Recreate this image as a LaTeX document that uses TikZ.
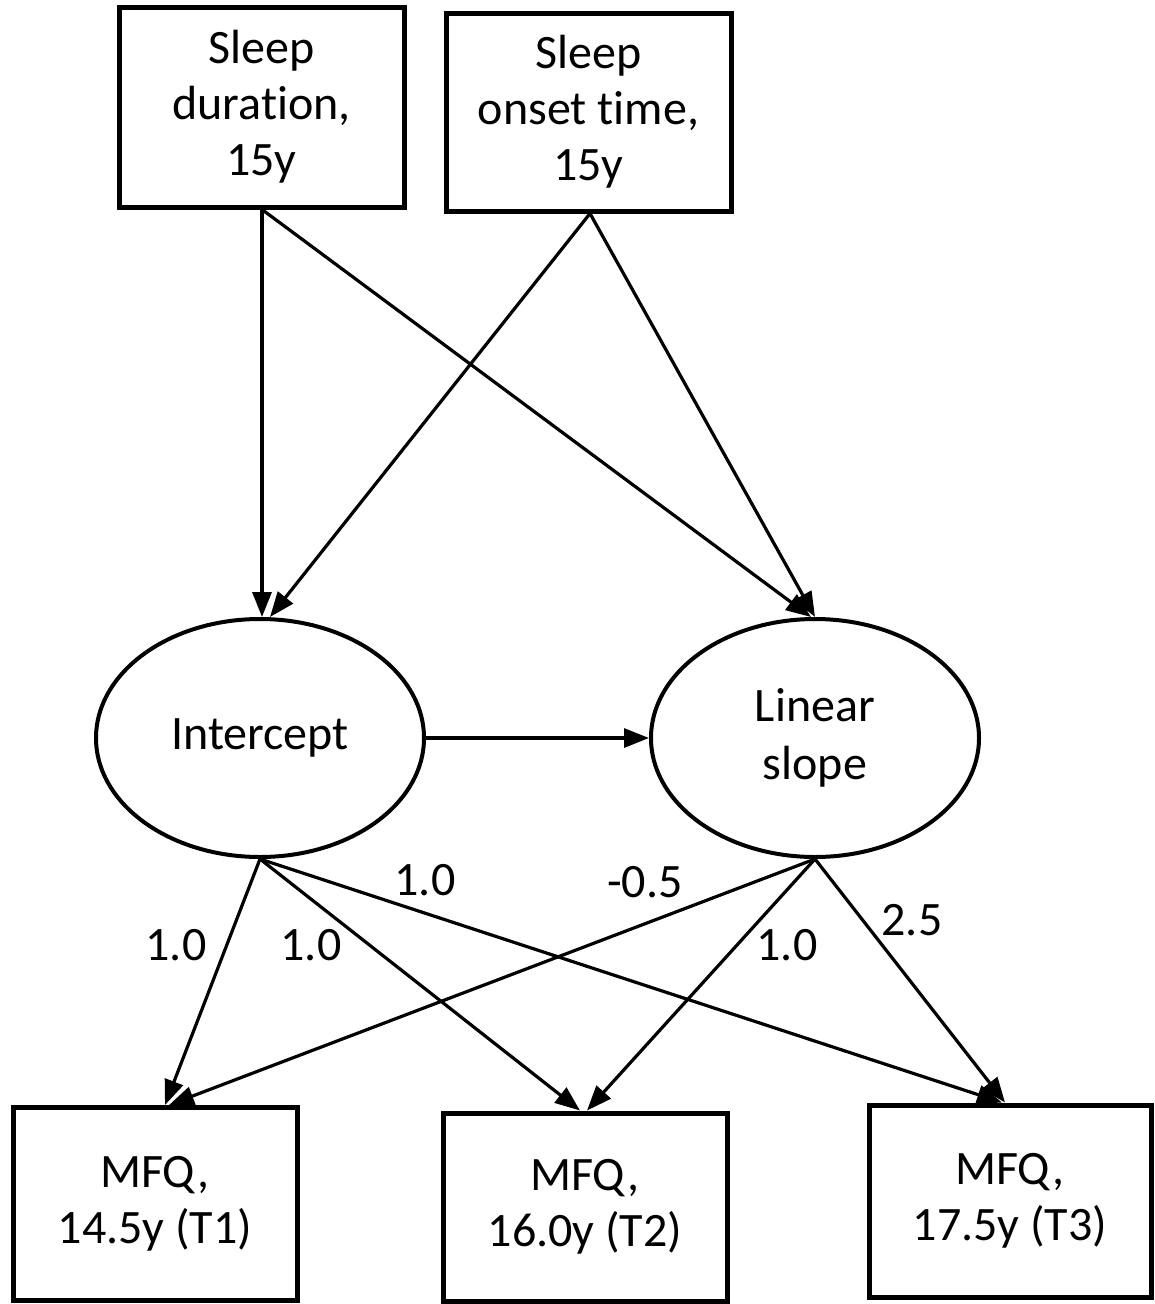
\documentclass[tikz,border=0pt]{standalone}
\usepackage{fontspec}
\setmainfont{Carlito}[Ligatures=CommonOff]
\usetikzlibrary{shapes.geometric,arrows.meta}
\tikzset{
  obsbox/.style={draw,line width=5pt,inner sep=0pt,align=center,font=\fontsize{48}{56}\selectfont},
  latent/.style={draw,ellipse,line width=4pt,inner sep=0pt,minimum width=328pt,minimum height=238pt,align=center,font=\fontsize{48}{58}\selectfont},
  path/.style={line width=3.2pt,-{Triangle[length=25pt,width=19pt]}},
  lab/.style={font=\fontsize{48}{52}\selectfont,inner sep=0pt}
}
\begin{document}
\begin{tikzpicture}[x=1pt,y=-1pt]
\useasboundingbox (0,0) rectangle (1155,1304);
\node[obsbox,minimum width=285pt,minimum height=200pt] (D) at (261.5,107) {Sleep\\duration,\\15y};
\node[obsbox,minimum width=285pt,minimum height=198pt] (O) at (588.5,112) {Sleep\\onset time,\\15y};
\node[latent] (I) at (260,738) {Intercept};
\node[latent] (S) at (815,738) {Linear\\slope};
\node[obsbox,minimum width=284pt,minimum height=193pt] (T1) at (155,1204) {MFQ,\\14.5y (T1)};
\node[obsbox,minimum width=284pt,minimum height=188pt] (T2) at (585,1207) {MFQ,\\16.0y (T2)};
\node[obsbox,minimum width=282pt,minimum height=192pt] (T3) at (1010,1201) {MFQ,\\17.5y (T3)};
\coordinate (Dd) at ([xshift=0.5pt]D.south);
\coordinate (Od) at ([xshift=1.5pt]O.south);
\draw[path] (Dd) -- ([xshift=2pt]I.north);
\draw[path] (Dd) -- ([xshift=-4pt]S.north);
\draw[path] (Od) -- ([xshift=10pt]I.north);
\draw[path] (Od) -- ([xshift=0pt]S.north);
\draw[path] (I.east) -- (S.west);
\draw[path] (I.south) -- ([xshift=10pt]T1.north);
\draw[path] (I.south) -- ([xshift=-5pt]T2.north);
\draw[path] (I.south) -- ([xshift=-8pt]T3.north);
\draw[path] (S.south) -- ([xshift=14pt]T1.north);
\draw[path] (S.south) -- ([xshift=2pt]T2.north);
\draw[path] (S.south) -- ([xshift=-5pt]T3.north);
\node[lab] (l1) at (176,945) {1.0};
\node[lab] (l2) at (311,945) {1.0};
\node[lab] (l3) at (425,880) {1.0};
\node[lab] (l4) at (645,882) {-0.5};
\node[lab] (l5) at (787,945) {1.0};
\node[lab] (l6) at (912,920) {2.5};
\end{tikzpicture}
\end{document}
